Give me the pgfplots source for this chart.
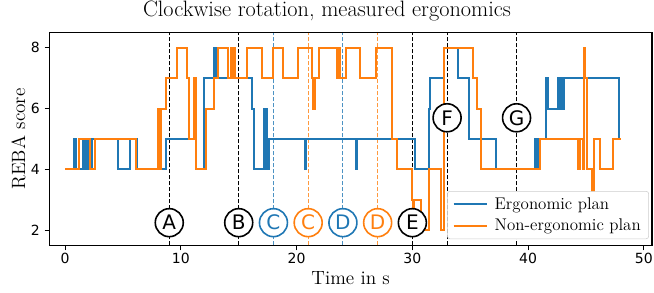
\documentclass[border=0pt]{standalone}
\usepackage{fontspec}
\usepackage{pgfplots}
\usepackage{pgfplotstable}
\pgfplotsset{compat=1.18}
\newfontfamily\dejavu{DejaVu Sans}
\definecolor{tabblue}{HTML}{1F77B4}
\definecolor{taborange}{HTML}{FF7F0E}

\pgfplotstableread{
t y
0 4
0.75 5
0.92 4
1.55 5
1.65 4
1.75 5
1.9 4
1.95 5
2.05 4
2.3 5
4.57 4
5.65 5
6.2 4
8.72 5
11.35 4
12.0 7
12.87 8
13.07 7
16.15 6
16.3 4
17.2 6
17.3 4
17.35 6
17.45 4
17.6 5
20.72 4
20.82 5
25.1 4
25.2 5
30.25 4
31.4 6
31.5 7
32.75 8
33.96 7
34.85 5
37.2 4
40.6 5
40.65 4
40.7 5
40.75 4
40.8 5
40.85 4
40.9 5
40.95 4
41.0 5
41.5 7
41.75 6
42.55 7
42.6 6
42.7 7
42.8 6
42.9 7
43.0 6
43.1 7
47.85 5
48.0 5
}\ergo

\pgfplotstableread{
t y
0 4
1.2 5
2.13 4
2.56 5
6.16 4
8.03 6
8.1 4
8.26 6
8.7 7
9.7 8
10.5 7
10.7 5
11.15 7
11.3 4
12.15 6
12.9 7
13.2 8
14.08 7
14.37 8
14.45 7
14.55 8
14.7 7
15.75 8
16.97 7
17.97 8
18.8 7
20.15 8
21.35 7
21.45 6
21.55 7
21.97 8
23.45 7
23.52 8
23.6 7
23.67 8
23.73 7
24.3 8
25.5 7
26.9 8
28.2 5
28.65 4
29.95 3
30.05 2
30.15 3
30.75 2
31.45 4
32.5 2
32.72 8
35.25 7
35.6 6
35.95 4
41.0 5
44.3 4
44.5 5
44.7 4
44.8 8
44.95 7
45.1 4
45.5 3
45.7 5
46.2 4
47.35 5
48.0 5
}\nonergo

\begin{document}
\begin{tikzpicture}
\useasboundingbox (-37pt,-35.6pt) rectangle (453.5pt,184.1pt);
\begin{axis}[
  at={(0,0)}, anchor=south west,
  scale only axis, width=452pt, height=159.6pt,
  xmin=-1.36, xmax=50.7, ymin=1.5, ymax=8.5,
  xtick={0,10,...,50}, ytick={2,4,6,8},
  tick align=outside, xtick pos=bottom, ytick pos=left,
  major tick length=3.6pt,
  every tick/.style={black, line width=0.8pt},
  axis line style={line width=0.8pt},
  ticklabel style={font=\dejavu\fontsize{10.5}{12}\selectfont},
  xticklabel style={yshift=1.5pt},
  /pgf/number format/assume math mode=true,
  title={Clockwise rotation, measured ergonomics},
  title style={at={(axis description cs:0.4607,1)}, anchor=base, yshift=5.8pt, font=\fontsize{16.7}{20}\selectfont},
  xlabel={Time in s},
  xlabel style={at={(axis description cs:0.5,0)}, anchor=base, yshift=-29.6pt, font=\fontsize{14.4}{17}\selectfont},
  ylabel={REBA score},
  ylabel style={at={(axis description cs:0,0.5)}, anchor=base, yshift=18.2pt, font=\fontsize{14.4}{17}\selectfont},
  legend style={at={(0.995,0.03)}, anchor=south east, draw=black!20, rounded corners=2pt, fill=white, font=\fontsize{12.7}{15}\selectfont, row sep=2pt, inner xsep=4pt, inner ysep=2.5pt,
    /tikz/every odd column/.append style={column sep=3pt}},
  legend cell align=left,
  legend image code/.code={\draw[#1] (0pt,0pt) -- (25pt,0pt);},
]
\addplot[black, line width=0.8pt, dash pattern=on 3pt off 1.5pt, forget plot] coordinates {(9,1.5) (9,8.5)};
\addplot[black, line width=0.8pt, dash pattern=on 3pt off 1.5pt, forget plot] coordinates {(15,1.5) (15,8.5)};
\addplot[tabblue, opacity=0.8, line width=0.8pt, dash pattern=on 3pt off 1.5pt, forget plot] coordinates {(18,1.5) (18,8.5)};
\addplot[taborange, opacity=0.8, line width=0.8pt, dash pattern=on 3pt off 1.5pt, forget plot] coordinates {(21,1.5) (21,8.5)};
\addplot[tabblue, opacity=0.8, line width=0.8pt, dash pattern=on 3pt off 1.5pt, forget plot] coordinates {(24,1.5) (24,8.5)};
\addplot[taborange, opacity=0.8, line width=0.8pt, dash pattern=on 3pt off 1.5pt, forget plot] coordinates {(27,1.5) (27,8.5)};
\addplot[black, line width=0.8pt, dash pattern=on 3pt off 1.5pt, forget plot] coordinates {(30,1.5) (30,8.5)};
\addplot[black, line width=0.8pt, dash pattern=on 3pt off 1.5pt, forget plot] coordinates {(33,1.5) (33,8.5)};
\addplot[black, line width=0.8pt, dash pattern=on 3pt off 1.5pt, forget plot] coordinates {(39,1.5) (39,8.5)};

\addplot[tabblue, line width=1.5pt, const plot, mark=none] table[x=t, y=y] {\ergo};
\addlegendentry{Ergonomic plan}
\addplot[taborange, line width=1.5pt, const plot, mark=none] table[x=t, y=y] {\nonergo};
\addlegendentry{Non-ergonomic plan}

\tikzset{circ/.style={circle, draw=#1, text=#1, fill=white, line width=1.2pt, minimum size=21pt, inner sep=0pt, font=\dejavu\fontsize{15}{18}\selectfont}}
\node[circ=black] at (axis cs:9,2.25) {A};
\node[circ=black] at (axis cs:15,2.25) {B};
\node[circ=tabblue] at (axis cs:18,2.25) {C};
\node[circ=taborange] at (axis cs:21,2.25) {C};
\node[circ=tabblue] at (axis cs:24,2.25) {D};
\node[circ=taborange] at (axis cs:27,2.25) {D};
\node[circ=black] at (axis cs:30,2.25) {E};
\node[circ=black] at (axis cs:33,5.7) {F};
\node[circ=black] at (axis cs:39,5.7) {G};
\end{axis}
\end{tikzpicture}
\end{document}
